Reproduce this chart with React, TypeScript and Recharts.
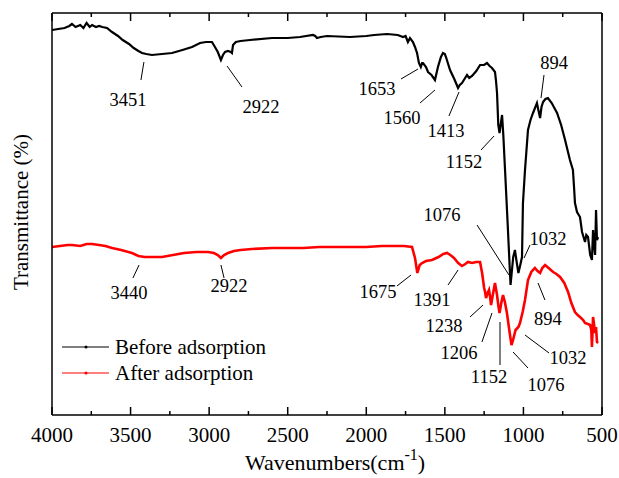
import React from "react";
import { LineChart, Line, XAxis, YAxis, ReferenceLine, ReferenceDot, Legend } from "recharts";

const FONT = '"Liberation Serif", "Times New Roman", serif';

// wavenumber ticks (cm-1), every 250 with labels every 500
const xTicks = [4000, 3750, 3500, 3250, 3000, 2750, 2500, 2250, 2000, 1750, 1500, 1250, 1000, 750, 500];
const yTicks = [66, 150, 234, 318, 402];

// before adsorption (black)
const beforeWn = [
  4000, 3960, 3920, 3890, 3873, 3850, 3820, 3800, 3780, 3760, 3745, 3720, 3700, 3680, 3650, 3618, 3580, 3550,
  3510, 3480, 3450, 3427, 3400, 3364, 3300, 3236, 3170, 3109, 3058, 3020, 2982, 2963, 2945, 2925, 2912, 2899,
  2880, 2862, 2855, 2848, 2830, 2800, 2740, 2600, 2500, 2422, 2339, 2325, 2314, 2290, 2250, 2104, 2000, 1950,
  1868, 1800, 1766, 1750, 1735, 1722, 1703, 1690, 1677, 1665, 1653, 1645, 1639, 1620, 1607, 1585, 1563, 1544,
  1525, 1512, 1500, 1493, 1467, 1440, 1416, 1405, 1391, 1375, 1359, 1345, 1327, 1300, 1276, 1250, 1232, 1215,
  1200, 1181, 1175, 1168, 1160, 1152, 1145, 1136, 1128, 1117, 1100, 1082, 1065, 1054, 1045, 1032, 1020, 1009,
  1003, 990, 971, 955, 939, 914, 905, 894, 885, 875, 860, 844, 820, 786, 760, 735, 704, 685, 678, 672, 659, 640,
  627, 608, 600, 589, 575, 564, 557, 550, 544, 538, 532, 525,
];
const beforeT = [
  385, 386, 387, 389, 391, 388, 390, 387, 392, 388, 390, 388, 389, 388, 387, 383, 379, 375,
  371, 367, 364, 362, 361, 360, 361, 362, 365, 368, 372, 373, 373, 368, 363, 355, 360, 363,
  364, 363, 362, 370, 373, 374, 375, 377, 377, 378, 380, 379, 377, 378, 379, 378, 379, 380,
  381, 380, 378, 379, 373, 377, 373, 368, 362, 352, 348, 352, 352, 348, 343, 340, 335, 348,
  358, 362, 361, 358, 345, 336, 327, 330, 332, 336, 340, 337, 339, 344, 350, 350, 352, 349,
  347, 343, 335, 322, 290, 282, 290, 300, 280, 245, 190, 130, 158, 165, 155, 142, 150, 158,
  212, 245, 285, 295, 302, 312, 305, 297, 308, 313, 316, 317, 312, 302, 290, 275, 255, 245, 228, 212, 203, 198,
  183, 173, 180, 178, 160, 155, 185, 170, 160, 205, 175, 178,
];

// after adsorption (red)
const afterWn = [
  4000, 3950, 3900, 3873, 3820, 3780, 3745, 3700, 3660, 3618, 3560, 3491, 3450, 3410, 3350, 3300, 3230, 3160,
  3080, 3007, 2970, 2945, 2925, 2905, 2880, 2842, 2800, 2728, 2600, 2500, 2400, 2300, 2200, 2100, 2000, 1900,
  1853, 1760, 1709, 1690, 1675, 1660, 1645, 1620, 1582, 1540, 1510, 1486, 1465, 1442, 1415, 1391, 1370, 1353,
  1327, 1300, 1276, 1263, 1250, 1244, 1238, 1228, 1219, 1212, 1206, 1195, 1181, 1168, 1160, 1152, 1141, 1130,
  1118, 1105, 1090, 1076, 1066, 1050, 1032, 1022, 1005, 990, 971, 950, 927, 910, 894, 880, 862, 840, 811, 790,
  767, 740, 716, 695, 672, 655, 640, 620, 608, 590, 576, 568, 564, 560, 557, 550, 545, 538, 532, 525,
];
const afterT = [
  168, 169, 170, 170, 169, 171, 171, 170, 169, 167, 165, 162, 159, 158, 158, 158, 160, 162,
  163, 163, 162, 160, 157, 160, 162, 164, 165, 166, 167, 167, 167, 168, 168, 168, 168, 169,
  169, 169, 168, 157, 142, 150, 152, 154, 155, 158, 161, 162, 160, 157, 152, 149, 151, 153,
  152, 153, 153, 142, 127, 123, 117, 122, 125, 118, 110, 120, 132, 120, 110, 102, 112, 120,
  113, 102, 85, 70, 75, 85, 88, 92, 103, 115, 135, 143, 147, 144, 142, 147, 150, 147, 143, 141,
  138, 132, 123, 112, 103, 100, 98, 95, 92, 91, 90, 85, 68, 85, 98, 90, 82, 88, 73, 72,
];

// peak labels: text, leader line start/end and text position (wavenumber, transmittance)
const beforeLabels = [
  { text: "3451", from: [3415, 353], to: [3434, 335], at: [3516, 315] },
  { text: "2922", from: [2886, 349], to: [2791, 328], at: [2670, 308] },
  { text: "1653", from: [1671, 346], to: [1779, 336], at: [1932, 326] },
  { text: "1560", from: [1563, 325], to: [1658, 312], at: [1773, 297] },
  { text: "1413", from: [1410, 323], to: [1474, 299], at: [1493, 284] },
  { text: "1152", from: [1187, 279], to: [1270, 265], at: [1378, 253] },
  { text: "894", from: [869, 340], to: [888, 317], at: [805, 352] },
  { text: "1076", from: [1295, 190], to: [1092, 140], at: [1518, 200] },
  { text: "1032", from: [958, 170], to: [996, 157], at: [844, 176] },
];
const afterLabels = [
  { text: "3440", from: [3446, 150], to: [3485, 137], at: [3510, 122] },
  { text: "2922", from: [2925, 150], to: [2905, 137], at: [2874, 129] },
  { text: "1675", from: [1715, 140], to: [1805, 129], at: [1925, 123] },
  { text: "1391", from: [1416, 145], to: [1480, 130], at: [1582, 115] },
  { text: "1238", from: [1257, 110], to: [1340, 98], at: [1505, 89] },
  { text: "1206", from: [1200, 102], to: [1264, 73], at: [1410, 62] },
  { text: "1152", from: [1149, 93], to: [1149, 50], at: [1219, 38] },
  { text: "1076", from: [1066, 63], to: [971, 47], at: [856, 30] },
  { text: "1032", from: [990, 80], to: [837, 62], at: [716, 57] },
  { text: "894", from: [907, 132], to: [863, 115], at: [844, 96] },
];

const series = [
  { name: "Before adsorption", color: "#000000" },
  { name: "After adsorption", color: "#ff0000" },
];

const beforeData = beforeWn.map((w, i) => ({ w, t: beforeT[i] }));
const afterData = afterWn.map((w, i) => ({ w, t: afterT[i] }));
const allLabels = [...beforeLabels, ...afterLabels];

function BottomTick(props: any) {
  const { x, y, payload } = props;
  const major = payload.value % 500 === 0;
  return (
    <g>
      <line x1={x} x2={x} y1={y} y2={y - (major ? 8 : 4)} stroke="#000" strokeWidth={1.5} />
      {major && (
        <text x={x} y={y + 27} textAnchor="middle" fontSize={21} fontFamily={FONT} fill="#000">
          {payload.value}
        </text>
      )}
    </g>
  );
}

function TopTick(props: any) {
  const { x, y, payload } = props;
  const major = payload.value % 500 === 0;
  return <line x1={x} x2={x} y1={y} y2={y + (major ? 8 : 4)} stroke="#000" strokeWidth={1.5} />;
}

const xTitle = () => (
  <text x={245} y={470} fontSize={22} fontFamily={FONT} fill="#000">
    Wavenumbers(cm
    <tspan dy={-10} fontSize={16}>-1</tspan>
    <tspan dy={10}>)</tspan>
  </text>
);

const yTitle = () => (
  <text x={28} y={212} transform="rotate(-90, 28, 212)" textAnchor="middle" fontSize={21} fontFamily={FONT} fill="#000">
    Transmittance (%)
  </text>
);

const legendContent = () => (
  <div style={{ fontFamily: FONT, fontSize: 21, color: "#000", lineHeight: "26px" }}>
    {series.map((s) => (
      <div key={s.name} style={{ display: "flex", alignItems: "center", height: 26 }}>
        <svg width={47} height={10} style={{ marginRight: 6 }}>
          <line x1={0} x2={47} y1={5} y2={5} stroke={s.color} strokeWidth={1.2} />
          <circle cx={24} cy={5} r={1.5} fill={s.color} />
        </svg>
        <span>{s.name}</span>
      </div>
    ))}
  </div>
);

export default function App() {
  return (
    <div style={{ position: "absolute", left: 0, top: 0 }}>
      <LineChart width={619} height={478} margin={{ top: 12, right: 16, bottom: 62, left: 51 }}>
        <XAxis
          xAxisId="b"
          type="number"
          dataKey="w"
          domain={[500, 4000]}
          reversed
          allowDataOverflow
          ticks={xTicks}
          interval={0}
          height={1}
          tickSize={0}
          tickMargin={0}
          tickLine={false}
          tick={<BottomTick />}
          axisLine={{ stroke: "#000", strokeWidth: 1.5 }}
          label={xTitle}
        />
        <XAxis
          xAxisId="t"
          orientation="top"
          type="number"
          dataKey="w"
          domain={[500, 4000]}
          reversed
          allowDataOverflow
          ticks={xTicks}
          interval={0}
          height={1}
          tickSize={0}
          tickMargin={0}
          tickLine={false}
          tick={<TopTick />}
          axisLine={{ stroke: "#000", strokeWidth: 1.5 }}
        />
        <YAxis
          yAxisId="l"
          type="number"
          domain={[0, 402]}
          allowDataOverflow
          ticks={yTicks}
          interval={0}
          width={1}
          tickSize={-7}
          tick={false}
          tickLine={{ stroke: "#000", strokeWidth: 1.5 }}
          axisLine={{ stroke: "#000", strokeWidth: 1.5 }}
          label={yTitle}
        />
        <YAxis
          yAxisId="r"
          orientation="right"
          type="number"
          domain={[0, 402]}
          allowDataOverflow
          ticks={yTicks}
          interval={0}
          width={1}
          tickSize={-7}
          tick={false}
          tickLine={{ stroke: "#000", strokeWidth: 1.5 }}
          axisLine={{ stroke: "#000", strokeWidth: 1.5 }}
        />
        <Legend
          layout="vertical"
          align="center"
          verticalAlign="middle"
          content={legendContent}
          wrapperStyle={{ left: 62, top: 334, width: 240 }}
        />
        <Line
          xAxisId="b"
          yAxisId="l"
          data={beforeData}
          dataKey="t"
          name="Before adsorption"
          type="linear"
          stroke="#000000"
          strokeWidth={2.2}
          dot={false}
          isAnimationActive={false}
        />
        <Line
          xAxisId="b"
          yAxisId="l"
          data={afterData}
          dataKey="t"
          name="After adsorption"
          type="linear"
          stroke="#ff0000"
          strokeWidth={2.6}
          dot={false}
          isAnimationActive={false}
        />
        {allLabels.map((a, i) => (
          <ReferenceLine
            key={"l" + i}
            xAxisId="b"
            yAxisId="l"
            segment={[
              { x: a.from[0], y: a.from[1] },
              { x: a.to[0], y: a.to[1] },
            ]}
            stroke="#000"
            strokeWidth={1}
          />
        ))}
        {allLabels.map((a, i) => (
          <ReferenceDot
            key={"t" + i}
            xAxisId="b"
            yAxisId="l"
            x={a.at[0]}
            y={a.at[1]}
            r={0}
            shape={(p: any) => (
              <text
                x={p.cx}
                y={p.cy}
                textAnchor="middle"
                dominantBaseline="central"
                fontSize={18.5}
                fontFamily={FONT}
                fill="#000"
              >
                {a.text}
              </text>
            )}
          />
        ))}
      </LineChart>
    </div>
  );
}
